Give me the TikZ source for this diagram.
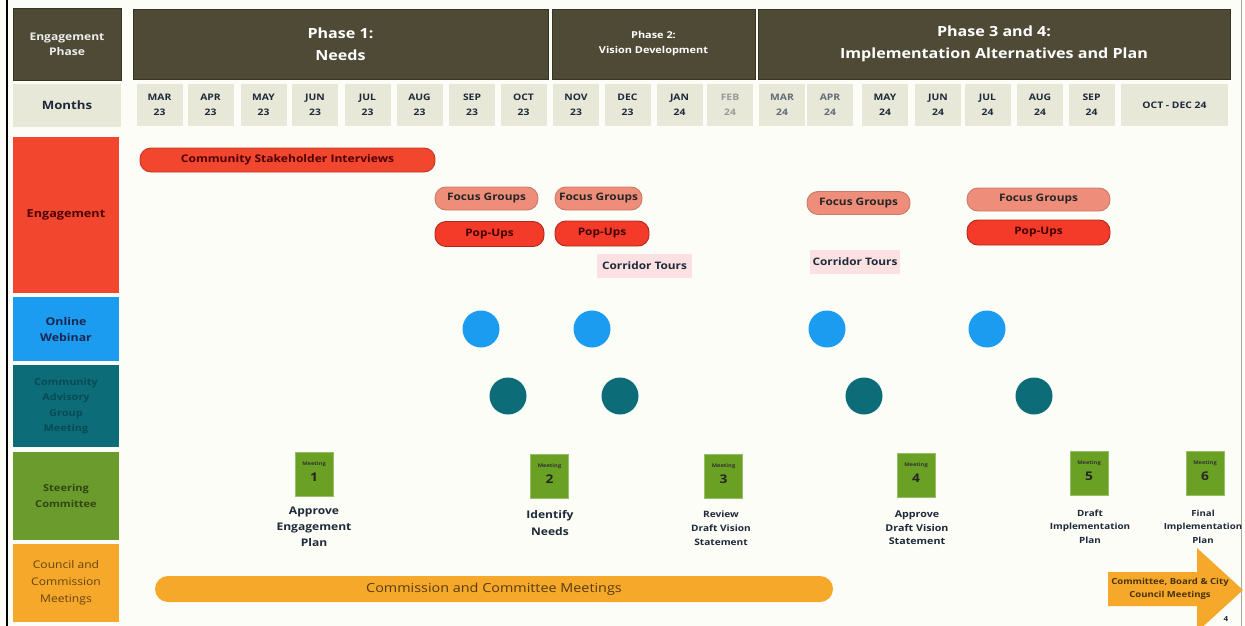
\documentclass[tikz,border=0pt]{standalone}
\usepackage{fontspec}
\setmainfont{Open Sans}[FakeStretch=1.15]
\definecolor{bg}{HTML}{FDFDF7}
\definecolor{hdr}{HTML}{4E4A36}
\definecolor{mon}{HTML}{E7E8D8}
\definecolor{engred}{HTML}{F2462E}
\definecolor{webblue}{HTML}{1C9CF0}
\definecolor{cagteal}{HTML}{0C6C78}
\definecolor{steer}{HTML}{6B9B2C}
\definecolor{council}{HTML}{F6A82A}
\definecolor{fgc}{HTML}{EE8E7A}
\definecolor{popup}{HTML}{F43B29}
\definecolor{corr}{HTML}{FBE1E2}
\definecolor{meet}{HTML}{6AA124}
\definecolor{navy}{HTML}{1E2A3A}
\begin{document}
\begin{tikzpicture}[x=1pt,y=-1pt,
  cell/.style={rectangle,inner sep=0pt,align=center,font=\bfseries},
  hdrbox/.style={cell,fill=hdr,text=white,draw=hdr!70!black,line width=0.6pt},
  monbox/.style={cell,fill=mon,text=navy,minimum width=46pt,minimum height=42pt,font=\fontsize{9}{15}\selectfont\bfseries},
  sidebox/.style={cell,minimum width=106pt},
  pill/.style={cell,rounded corners=11pt,line width=0.9pt},
  fgpill/.style={pill,fill=fgc,draw=fgc!85!black,minimum height=23pt,font=\fontsize{10.3}{12}\selectfont\bfseries,text=black!85},
  pupill/.style={pill,fill=popup,draw=popup!70!black,minimum height=25pt,font=\fontsize{10.3}{12}\selectfont\bfseries,text=black!75!red},
  corrbox/.style={cell,fill=corr,minimum height=24pt,font=\fontsize{10.3}{12}\selectfont\bfseries,text=navy},
  web/.style={circle,fill=webblue,minimum size=37pt,inner sep=0pt},
  cag/.style={circle,fill=cagteal,minimum size=37pt,inner sep=0pt},
  meetsq/.style={rectangle,fill=meet,draw=meet!70!white,line width=0.8pt,minimum width=38pt,minimum height=44pt,inner sep=0pt},
  meetw/.style={inner sep=0pt,font=\fontsize{5}{6}\selectfont\bfseries,text=black!80},
  meetn/.style={inner sep=0pt,font=\fontsize{12}{13}\selectfont\bfseries,text=black!85},
  mlabel/.style={inner sep=0pt,align=center,text=navy}
]
\fill[bg] (0,0) rectangle (1245,626);
\useasboundingbox (0,0) rectangle (1245,626);
\draw[line width=2pt] (7,0) -- (7,626);
\draw[black!35,line width=0.8pt] (1241,0) -- (1241,626);

% header row
\node[hdrbox,minimum width=108pt,minimum height=72pt,font=\fontsize{10.5}{15}\selectfont\bfseries,text=white!90!hdr] (ephase) at (67,44) {Engagement\\Phase};
\node[hdrbox,minimum width=415pt,minimum height=70pt,font=\fontsize{14}{22}\selectfont\bfseries] (ph1) at (340.5,44) {Phase 1:\\Needs};
\node[hdrbox,minimum width=203pt,minimum height=70pt,font=\fontsize{9.5}{15}\selectfont\bfseries] (ph2) at (653.5,44) {Phase 2:\\Vision Development};
\node[hdrbox,minimum width=472pt,minimum height=70pt,font=\fontsize{14}{22}\selectfont\bfseries] (ph3) at (994,44) {Phase 3 and 4:\\Implementation Alternatives and Plan};

% months row
\node[cell,fill=mon,minimum width=108pt,minimum height=43pt,font=\fontsize{11.5}{13}\selectfont\bfseries,text=navy] (months) at (67,105.5) {Months};
\node[monbox] (m01) at (159.5,105) {MAR\\23};
\node[monbox] (m02) at (210.5,105) {APR\\23};
\node[monbox] (m03) at (263.5,105) {MAY\\23};
\node[monbox] (m04) at (315,105) {JUN\\23};
\node[monbox] (m05) at (367.5,105) {JUL\\23};
\node[monbox] (m06) at (419.5,105) {AUG\\23};
\node[monbox] (m07) at (472,105) {SEP\\23};
\node[monbox] (m08) at (523.5,105) {OCT\\23};
\node[monbox] (m09) at (576,105) {NOV\\23};
\node[monbox] (m10) at (627.5,105) {DEC\\23};
\node[monbox] (m11) at (679.5,105) {JAN\\24};
\node[monbox,text=black!40] (m12) at (730,105) {FEB\\24};
\node[monbox,text=navy!70] (m13) at (782,105) {MAR\\24};
\node[monbox,text=navy!70] (m14) at (830,105) {APR\\24};
\node[monbox] (m15) at (885,105) {MAY\\24};
\node[monbox] (m16) at (938,105) {JUN\\24};
\node[monbox] (m17) at (987.5,105) {JUL\\24};
\node[monbox] (m18) at (1040,105) {AUG\\24};
\node[monbox] (m19) at (1091.5,105) {SEP\\24};
\node[monbox,minimum width=107pt] (m20) at (1174.5,105) {OCT - DEC 24};

% side labels
\node[sidebox,fill=engred,minimum height=156pt,font=\fontsize{11}{13}\selectfont\bfseries,text=black!70!red] (sEng) at (66,215) {Engagement};
\node[sidebox,fill=webblue,minimum height=64pt,font=\fontsize{10.7}{16}\selectfont\bfseries,text=navy!90!blue] (sWeb) at (66,329) {Online\\Webinar};
\node[sidebox,fill=cagteal,minimum height=82pt,font=\fontsize{9.5}{15.3}\selectfont\bfseries,text=cagteal!70!black] (sCag) at (66,406) {Community\\Advisory\\Group\\Meeting};
\node[sidebox,fill=steer,minimum height=88pt,font=\fontsize{9.6}{16}\selectfont\bfseries,text=steer!45!black] (sSteer) at (66,496) {Steering\\Committee};
\node[sidebox,fill=council,minimum height=78pt,font=\fontsize{10.5}{17}\selectfont,text=council!40!black] (sCouncil) at (66,583) {Council and\\Commission\\Meetings};

% engagement items
\node[pill,fill=engred,draw=engred!80!black,minimum width=295pt,minimum height=24pt,font=\fontsize{10.5}{12}\selectfont\bfseries,text=black!70!red] (csi) at (287.5,160) {Community Stakeholder Interviews};
\node[fgpill,minimum width=103pt] (fg1) at (486.5,198.5) {Focus Groups};
\node[fgpill,minimum width=87pt] (fg2) at (598.5,198.5) {Focus Groups};
\node[fgpill,minimum width=103pt] (fg3) at (858.5,203) {Focus Groups};
\node[fgpill,minimum width=143pt] (fg4) at (1038.5,199.5) {Focus Groups};
\node[pupill,minimum width=109pt] (pu1) at (489.5,234) {Pop-Ups};
\node[pupill,minimum width=94pt] (pu2) at (602,233.5) {Pop-Ups};
\node[pupill,minimum width=143pt] (pu3) at (1038.5,232.5) {Pop-Ups};
\node[corrbox,minimum width=95pt] (ct1) at (644.5,265.5) {Corridor Tours};
\node[corrbox,minimum width=90pt] (ct2) at (855,261.5) {Corridor Tours};

% online webinars
\node[web] (w1) at (481,329) {};
\node[web] (w2) at (592,329) {};
\node[web] (w3) at (827,329) {};
\node[web] (w4) at (987,329) {};

% community advisory group meetings
\node[cag] (c1) at (508,396) {};
\node[cag] (c2) at (620,396) {};
\node[cag] (c3) at (864,396) {};
\node[cag] (c4) at (1034,396) {};

% steering committee meetings
\node[meetsq] (s1) at (314,474) {};
\node[meetsq] (s2) at (549.5,476) {};
\node[meetsq] (s3) at (723.5,476) {};
\node[meetsq] (s4) at (916,475.5) {};
\node[meetsq] (s5) at (1089,473.5) {};
\node[meetsq] (s6) at (1205,473.5) {};
\foreach \s/\n in {s1/1,s2/2,s3/3,s4/4,s5/5,s6/6}{
  \node[meetw] at ([yshift=10pt]\s.center) {Meeting};
  \node[meetn] at ([yshift=-3pt]\s.center) {\n};
}
\node[mlabel,font=\fontsize{10.5}{16}\selectfont\bfseries] (l1) at (314,527) {Approve\\Engagement\\Plan};
\node[mlabel,font=\fontsize{10.5}{17}\selectfont\bfseries] (l2) at (550,523.5) {Identify\\Needs};
\node[mlabel,font=\fontsize{8.8}{14}\selectfont\bfseries] (l3) at (721,528) {Review\\Draft Vision\\Statement};
\node[mlabel,font=\fontsize{9.3}{13.5}\selectfont\bfseries] (l4) at (917,528) {Approve\\Draft Vision\\Statement};
\node[mlabel,font=\fontsize{8.6}{13.5}\selectfont\bfseries] (l5) at (1090,526.5) {Draft\\Implementation\\Plan};
\node[mlabel,font=\fontsize{8.4}{13.5}\selectfont\bfseries] (l6) at (1203,526.5) {Final\\Implementation\\Plan};

% council / commission
\node[cell,fill=council,rounded corners=13pt,minimum width=678pt,minimum height=26pt,font=\fontsize{12.5}{14}\selectfont,text=council!35!black] (ccm) at (494,589) {Commission and Committee Meetings};
\fill[council] (1108,572) -- (1197,572) -- (1197,548) -- (1243,590) -- (1197,632) -- (1197,606) -- (1108,606) -- cycle;
\node[inner sep=0pt,align=center,font=\fontsize{8.3}{13}\selectfont\bfseries,text=council!30!black] (cbc) at (1170,589) {Committee, Board \& City\\Council Meetings};
\node[inner sep=0pt,font=\fontsize{7}{8}\selectfont\bfseries,text=navy] (pg) at (1226,619) {4};
\end{tikzpicture}
\end{document}
